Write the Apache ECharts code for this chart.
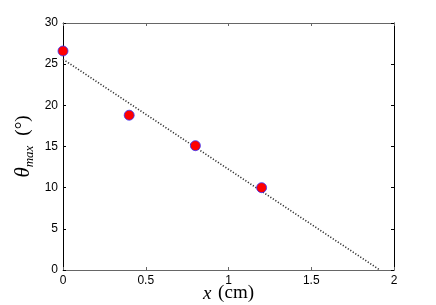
<!DOCTYPE html>
<html>
<head>
<meta charset="utf-8">
<script src="https://cdn.jsdelivr.net/npm/echarts@6/dist/echarts.min.js"></script>
<style>html,body{margin:0;padding:0;background:#fff}#c{width:436px;height:305px}</style>
</head>
<body>
<div id="c"></div>
<script>
var xPositions = [0, 0.4, 0.8, 1.2];
var thetaMax = [26.6, 18.8, 15.1, 10.0];
var fitX = [0, 1.915];
var fitY = [25.6, 0];
var xTicks = [0, 0.5, 1, 1.5, 2];
var yTicks = [0, 5, 10, 15, 20, 25, 30];

var chart = echarts.init(document.getElementById('c'), null, {renderer: 'canvas'});
var tickLabel = {fontFamily: 'Liberation Sans', fontSize: 12, color: '#000'};
function fmt(v){ return String(v); }
chart.setOption({
  animation: false,
  backgroundColor: '#fff',
  grid: {left: 63, right: 42, top: 23, bottom: 35, containLabel: false, outerBoundsMode: 'none'},
  xAxis: [{
    type: 'value', min: 0, max: 2, interval: 0.5,
    axisLine: {show: true, onZero: false, lineStyle: {color: '#666', width: 1}},
    axisTick: {show: true, inside: true, length: 3, lineStyle: {color: '#666'}},
    axisLabel: Object.assign({margin: 5, formatter: fmt}, tickLabel),
    splitLine: {show: false},
    name: '{it|x}  {rm|(cm)}',
    nameLocation: 'middle', nameGap: 14, nameMoveOverlap: false,
    nameTextStyle: {rich: {
      it: {fontFamily: 'Liberation Serif', fontStyle: 'italic', fontSize: 19, color: '#000'},
      rm: {fontFamily: 'Liberation Serif', fontSize: 19, color: '#000'}
    }}
  }, {
    type: 'value', min: 0, max: 2, interval: 0.5, position: 'top',
    axisLine: {show: true, onZero: false, lineStyle: {color: '#666', width: 1}},
    axisTick: {show: true, inside: true, length: 3, lineStyle: {color: '#666'}},
    axisLabel: {show: false}, splitLine: {show: false}
  }],
  yAxis: [{
    type: 'value', min: 0, max: 30, interval: 5,
    axisLine: {show: true, onZero: false, lineStyle: {color: '#000', width: 1}},
    axisTick: {show: true, inside: true, length: 3, lineStyle: {color: '#000'}},
    axisLabel: Object.assign({margin: 5, formatter: fmt}, tickLabel),
    splitLine: {show: false},
    name: '{th|θ}{sub|max}   {rm|(°)}',
    nameLocation: 'middle', nameGap: 27, nameRotate: 90, nameMoveOverlap: false,
    nameTextStyle: {rich: {
      th: {fontFamily: 'Liberation Serif', fontStyle: 'italic', fontSize: 21, lineHeight: 26, color: '#000'},
      sub: {fontFamily: 'Liberation Serif', fontStyle: 'italic', fontSize: 13, verticalAlign: 'bottom', lineHeight: 13, color: '#000', padding: [10, 0, 0, 0]},
      rm: {fontFamily: 'Liberation Serif', fontSize: 19, color: '#000'}
    }}
  }, {
    type: 'value', min: 0, max: 30, interval: 5, position: 'right',
    axisLine: {show: true, onZero: false, lineStyle: {color: '#000', width: 1}},
    axisTick: {show: true, inside: true, length: 3, lineStyle: {color: '#000'}},
    axisLabel: {show: false}, splitLine: {show: false}
  }],
  series: [{
    type: 'line',
    xAxisIndex: 1, yAxisIndex: 1,
    data: fitX.map(function(x, i){ return [x, fitY[i]]; }),
    symbol: 'none',
    lineStyle: {type: [1.2, 1.8], color: '#333', width: 1.6},
    z: 1
  }, {
    type: 'scatter',
    data: xPositions.map(function(x, i){ return [x, thetaMax[i]]; }),
    symbol: 'circle', symbolSize: 10,
    itemStyle: {color: '#ff0000', borderColor: '#3333ff', borderWidth: 0.8, opacity: 1},
    z: 3
  }]
});
</script>
</body>
</html>
